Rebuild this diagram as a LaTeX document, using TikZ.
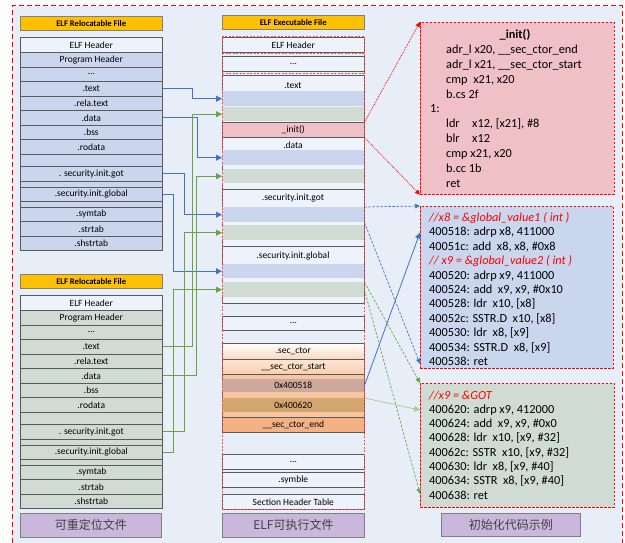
\documentclass[tikz,border=0pt]{standalone}
\usepackage{fontspec}
\setmainfont{Carlito}
\newfontfamily\cjk{Noto Sans CJK SC}
\usetikzlibrary{arrows.meta}

\definecolor{framebg}{HTML}{E8EEF8}
\definecolor{seclight}{HTML}{EEF2FA}
\definecolor{hdrorange}{HTML}{FFC000}
\definecolor{secblue}{HTML}{C9D6EE}
\definecolor{secgreen}{HTML}{D0DCD3}
\definecolor{initpink}{HTML}{F0C0C7}
\definecolor{tagpurple}{HTML}{C9B8DC}
\definecolor{lineblue}{HTML}{4472C4}
\definecolor{linegreen}{HTML}{6AA348}
\definecolor{lightgreen}{HTML}{A9D18E}
\definecolor{ctorpeach}{HTML}{F7C6A1}
\definecolor{ctorrose}{HTML}{CDA89C}
\definecolor{ctortan}{HTML}{D3A66F}
\definecolor{ctorend}{HTML}{F4B183}
\definecolor{borderg}{HTML}{5A5A5A}

\begin{document}
\begin{tikzpicture}[x=1pt, y=-1pt, >={Triangle[length=6pt, width=6pt]},
  sec/.style={draw=borderg, line width=0.6pt, minimum width=142pt, inner sep=0pt, anchor=north west, font=\fontsize{9.5}{11}\selectfont},
  strip/.style={minimum width=142pt, inner sep=0pt, anchor=north west, font=\fontsize{9.5}{11}\selectfont},
  hdrbox/.style={draw=gray, fill=hdrorange, minimum width=142pt, minimum height=14pt, inner sep=0pt, anchor=north west, font=\bfseries\fontsize{8.6}{9}\selectfont},
  tagbox/.style={draw=gray, line width=0.8pt, fill=tagpurple, minimum height=24pt, inner sep=0pt, anchor=north west, text=black!75, font=\cjk\fontsize{12}{14}\selectfont},
  lbl/.style={inner sep=0pt, font=\fontsize{9.5}{11}\selectfont},
  codebox/.style={draw=red, line width=0.8pt, dash pattern=on 2.5pt off 1.5pt, inner sep=0pt, anchor=north west},
  codeline/.style={inner sep=0pt, anchor=base west, font=\fontsize{12.3}{14}\selectfont},
  colframe/.style={red!70, line width=0.6pt, dash pattern=on 2pt off 1.5pt},
  blueconn/.style={->, lineblue, line width=0.8pt},
  greenconn/.style={->, linegreen, line width=0.8pt},
  reddot/.style={-{Triangle[length=5pt, width=4.5pt]}, red, line width=0.8pt, densely dotted},
  bluedash/.style={-{Triangle[length=5pt, width=4.5pt]}, lineblue, line width=0.7pt, dash pattern=on 2.5pt off 1.5pt},
  greendash/.style={-{Triangle[length=5pt, width=4.5pt]}, linegreen, line width=0.7pt, dash pattern=on 2.5pt off 1.5pt}]
  \useasboundingbox (0,0) rectangle (625,543);
  % outer frame
  \fill[framebg] (12,6) rectangle (622,543);
  \draw[red, line width=1pt, dash pattern=on 5pt off 3pt] (12,543) -- (12,6) -- (622,6) -- (622,543);

  % relocatable files (left)
  \foreach \c/\dy/\col in {a/0/secblue, b/258/secgreen} {
    \node[hdrbox] (\c hdr) at (20,16+\dy) {ELF Relocatable File};
    \node[sec, fill=seclight, minimum height=15pt] (\c ehdr) at (20,37+\dy) {ELF Header};
    \foreach \n/\t/\h/\txt in {ph/52/15/{Program Header}, dots/67/14/{\ldots}, text/81/15/{.text},
        rela/96/14/{.rela.text}, data/110/15/{.data}, bss/125/14/{.bss}, ro/139/15/{.rodata},
        emp/154/12/{}, got/166/15/{. security.init.got}, gapa/181/6/{}, glob/187/14/{.security.init.global},
        gapb/201/6/{}, sym/207/14/{.symtab}, str/221/15/{.strtab}, shs/236/14/{.shstrtab}}
      \node[sec, fill=\col, minimum height=\h pt] (\c\n) at (20,\t+\dy) {\txt};
  }

  % executable file (middle)
  \node[hdrbox] (xhdr) at (222,15) {ELF Executable File};
  \node[sec, fill=seclight, minimum height=15pt] (xehdr) at (222,37) {ELF Header};
  \node[sec, fill=seclight, minimum height=15pt] (xdots) at (222,56) {\ldots};
  \node[sec, fill=seclight, minimum height=62pt] (xtext) at (222,75) {};
  \node[strip, fill=secblue, minimum height=15pt] (xtextb) at (222,91) {};
  \node[strip, fill=secgreen, minimum height=14pt] (xtextg) at (222,107) {};
  \node[sec, fill=initpink, minimum height=15pt] (xinit) at (222,122) {\_init()};
  \node[sec, fill=seclight, minimum height=52pt] (xdata) at (222,137) {};
  \node[strip, fill=secblue, minimum height=15pt] (xdatab) at (222,150) {};
  \node[strip, fill=secgreen, minimum height=14pt] (xdatag) at (222,169) {};
  \node[sec, fill=seclight, minimum height=57pt] (xgot) at (222,189) {};
  \node[strip, fill=secblue, minimum height=15pt] (xgotb) at (222,207) {};
  \node[strip, fill=secgreen, minimum height=15pt] (xgotg) at (222,225) {};
  \node[sec, fill=seclight, minimum height=57pt] (xglob) at (222,246) {};
  \node[strip, fill=secblue, minimum height=14pt] (xglobb) at (222,264) {};
  \node[strip, fill=secgreen, minimum height=15pt] (xglobg) at (222,282) {};
  \node[lbl] (ltext) at (293,86) {.text};
  \node[lbl] (ldata) at (293,145) {.data};
  \node[lbl] (lgot) at (293,198) {.security.init.got};
  \node[lbl] (lglob) at (293,256) {.security.init.global};
  \node[sec, fill=seclight, minimum height=14pt] (xdots2) at (222,316) {\ldots};
  % .sec_ctor
  \node[sec, fill=ctorpeach, minimum height=89pt] (xctor) at (222,343) {};
  \node[sec, top color=white, bottom color=ctorpeach!70, minimum height=16pt] (xsecctor) at (222,343) {.sec\_ctor};
  \node[sec, top color=ctorpeach!45, bottom color=ctorpeach!85, minimum height=15pt] (xstart) at (222,359) {\_\_sec\_ctor\_start};
  \node[strip, fill=ctorrose, minimum height=13pt] (x518) at (222,379) {0x400518};
  \node[strip, fill=ctortan, minimum height=14pt] (x620) at (222,398) {0x400620};
  \node[sec, fill=ctorend, minimum height=15pt] (xend) at (222,417) {\_\_sec\_ctor\_end};
  \node[sec, fill=seclight, minimum height=15pt] (xdots3) at (222,454) {\ldots};
  \node[sec, fill=seclight, minimum height=15pt] (xsymble) at (222,472) {.symble};
  \node[sec, fill=seclight, minimum height=15pt] (xsht) at (222,494) {Section Header Table};
  \draw[colframe] (222,36) rectangle (364,509);
  \draw[colframe] (222,53) -- (364,53) (222,73) -- (364,73);

  % init code (right)
  \node[codebox, fill=initpink, minimum width=194pt, minimum height=172pt] (initbox) at (420,22) {};
  \node[inner sep=0pt, anchor=base, font=\bfseries\fontsize{12.3}{14}\selectfont] (inittitle) at (515,39) {\_init()};
  \foreach \x/\t [count=\i] in {446/{adr\_l x20, \_\_sec\_ctor\_end}, 446/{adr\_l x21, \_\_sec\_ctor\_start},
      446/{cmp\ \ x21, x20}, 446/{b.cs 2f}, 430/{1:}, 446/{\makebox[26pt][l]{ldr}x12, [x21], \#8},
      446/{\makebox[26pt][l]{blr}x12}, 446/{cmp x21, x20}, 446/{b.cc 1b}, 446/{ret}}
    \node[codeline] (initl\i) at (\x,39+14.8*\i) {\t};

  \node[codebox, fill=secblue, minimum width=193pt, minimum height=162pt] (codebbox) at (420,206) {};
  \foreach \t [count=\i] in {{\color{red}\itshape //x8 = \&global\_value1 ( int )},
      {400518: adrp x8, 411000}, {40051c: add\ \ x8, x8, \#0x8},
      {\color{red}\itshape // x9 = \&global\_value2 ( int )},
      {400520: adrp x9, 411000}, {400524: add\ \ x9, x9, \#0x10},
      {400528: ldr\ \ x10, [x8]}, {40052c: SSTR.D\ \ x10, [x8]},
      {400530: ldr\ \ x8, [x9]}, {400534: SSTR.D\ \ x8, [x9]}, {400538: ret}}
    \node[codeline] (codeb\i) at (429,206.9+14.44*\i) {\t};

  \node[codebox, fill=secgreen, minimum width=194pt, minimum height=124pt] (codegbox) at (420,383) {};
  \foreach \t [count=\i] in {{\color{red}\itshape //x9 = \&GOT},
      {400620: adrp x9, 412000}, {400624: add\ \ x9, x9, \#0x0},
      {400628: ldr\ \ x10, [x9, \#32]}, {40062c: SSTR\ \ x10, [x9, \#32]},
      {400630: ldr\ \ x8, [x9, \#40]}, {400634: SSTR\ \ x8, [x9, \#40]}, {400638: ret}}
    \node[codeline] (codeg\i) at (429,384.7+14.3*\i) {\t};

  % links into the executable
  \draw[blueconn] (atext.east) -- ++(30,0) |- (xtextb.west);
  \draw[blueconn] (adata.east) -- ++(35,0) |- (xdatab.west);
  \draw[blueconn] (agot.east) -- ++(22,0) |- (xgotb.west);
  \draw[blueconn] (aglob.east) -- ++(11,0) |- (xglobb.west);
  \draw[greenconn] (btext.east) -- ++(30,0) |- (xtextg.west);
  \draw[greenconn] (bdata.east) -- ++(34,0) |- (xdatag.west);
  \draw[greenconn] (bgot.east) -- ++(22,0) |- (xgotg.west);
  \draw[greenconn] (bglob.east) -- ++(11,0) |- (xglobg.west);

  % links to the code
  \draw[reddot] (xinit.north east) -- (initbox.north west);
  \draw[reddot] (xinit.south east) -- (initbox.south west);
  \draw[bluedash] (xgotb.north east) -- (codebbox.north west);
  \draw[bluedash] (xgotb.south east) -- ([yshift=5pt]codebbox.south west);
  \draw[greendash] (xglobg.north east) -- (codegbox.north west);
  \draw[greendash] (xglobg.east) -- ([yshift=14pt]codegbox.south west);
  \draw[blueconn] (x518.east) -- (codebbox.west |- codeb2.west);
  \draw[->, lightgreen, line width=0.8pt] (x620.north east) -- (codegbox.west |- codeg2.west);

  % captions
  \node[tagbox, minimum width=141pt] (tagrel) at (20,513) {可重定位文件};
  \node[tagbox, minimum width=142pt] (tagexe) at (222,513) {ELF可执行文件};
  \node[tagbox, minimum width=139pt, minimum height=23pt] (tagcode) at (441,513) {初始化代码示例};
\end{tikzpicture}
\end{document}
